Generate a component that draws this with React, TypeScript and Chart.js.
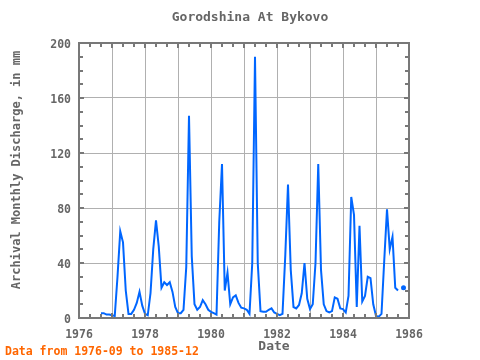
import React, { useEffect, useRef } from 'react';
import { Chart, registerables } from 'chart.js';

Chart.register(...registerables);

// ---- text ----
const TITLE = 'Gorodshina At Bykovo';
const Y_TITLE = 'Archival Monthly Discharge, in mm';
const X_TITLE = 'Date';
const FOOTNOTE = 'Data from 1976-09 to 1985-12';

// ---- data: monthly discharge (mm), series starts 1976-09 ----
const START_YEAR = 1976;
const START_MONTH = 9;
const q1976 = [3.5, 3.5, 2.5, 2.5];
const q1977 = [2, 1.5, 30, 63, 55, 20, 3, 3, 6, 11, 19, 9];
const q1978 = [3, 2, 18, 50, 71, 52, 22, 26, 24, 26, 19, 8];
const q1979 = [3.5, 3.5, 6, 37, 147, 45, 10, 6, 8, 13, 10, 6];
const q1980 = [4.5, 3.5, 2.5, 70, 112, 20, 33, 10, 15, 16.5, 11, 7.5];
const q1981 = [7, 6, 3, 40, 190, 40, 5, 4.5, 4.5, 6, 7, 4];
const q1982 = [3, 2, 3, 45, 97, 35, 8, 7, 9.5, 18, 40, 14];
const q1983 = [6.5, 10, 40, 112, 35, 10, 5, 4, 5, 15, 14, 7];
const q1984 = [6.5, 4, 16, 88, 75, 8, 67, 12, 16, 30, 29, 10];
const q1985 = [1.5, 1, 3, 42, 79, 50, 59, 22, 20, null, 22, null];

// ---- axes ----
const X_MIN = 1976;
const X_MAX = 1986;
const Y_MIN = 0;
const Y_MAX = 200;
const Y_STEP = 40;
const Y_MINOR = 10;
const X_MINOR_PER_YEAR = 3;

const TEXT_COLOR = '#666666';
const LINE_COLOR = '#0066ff';
const GRID_COLOR = '#b0b0b0';
const FRAME_COLOR = '#787878';
const NOTE_COLOR = '#ff6600';
const MONO = "'DejaVu Sans Mono', monospace";

const discharge: (number | null)[] = ([] as (number | null)[]).concat(
  q1976, q1977, q1978, q1979, q1980, q1981, q1982, q1983, q1984, q1985
);

const points = discharge.map((v, k) => ({
  x: START_YEAR + (START_MONTH - 1 + k) / 12,
  y: v,
}));

const framePlugin = {
  id: 'framePlugin',
  afterDraw(chart: any) {
    const { ctx, chartArea, scales } = chart;
    const { left, right, top, bottom } = chartArea;
    const xs = scales.x;
    const ys = scales.y;
    ctx.save();
    ctx.strokeStyle = FRAME_COLOR;
    ctx.lineWidth = 2;
    ctx.beginPath();
    for (let yr = X_MIN; yr <= X_MAX; yr++) {
      for (let s = 0; s < X_MINOR_PER_YEAR; s++) {
        const t = yr + s / X_MINOR_PER_YEAR;
        if (t > X_MAX) break;
        const px = Math.round(xs.getPixelForValue(t));
        const len = s === 0 ? 5 : 4;
        ctx.moveTo(px, bottom);
        ctx.lineTo(px, bottom - len);
        ctx.moveTo(px, top);
        ctx.lineTo(px, top + len);
      }
    }
    for (let v = Y_MIN; v <= Y_MAX; v += Y_MINOR) {
      const py = Math.round(ys.getPixelForValue(v));
      const len = v % Y_STEP === 0 ? 5 : 4;
      ctx.moveTo(left, py);
      ctx.lineTo(left + len, py);
      ctx.moveTo(right, py);
      ctx.lineTo(right - len, py);
    }
    ctx.stroke();
    ctx.strokeRect(left, top, right - left, bottom - top);

    ctx.fillStyle = TEXT_COLOR;
    ctx.textBaseline = 'middle';
    ctx.textAlign = 'center';
    ctx.font = `bold 13px ${MONO}`;
    ctx.fillText(TITLE, 250, 18);
    ctx.fillText(X_TITLE, 274, 347);

    ctx.save();
    ctx.translate(17, 170);
    ctx.rotate(-Math.PI / 2);
    ctx.font = `bold 12px ${MONO}`;
    ctx.fillText(Y_TITLE, 0, 0);
    ctx.restore();

    ctx.fillStyle = NOTE_COLOR;
    ctx.textAlign = 'left';
    ctx.font = `bold 11.5px ${MONO}`;
    ctx.fillText(FOOTNOTE, 5, 352);
    ctx.restore();
  },
};

export default function App() {
  const canvasRef = useRef<HTMLCanvasElement>(null);

  useEffect(() => {
    if (!canvasRef.current) return;
    const chart = new Chart(canvasRef.current, {
      type: 'line',
      data: {
        datasets: [
          {
            data: points as any,
            borderColor: LINE_COLOR,
            backgroundColor: LINE_COLOR,
            borderWidth: 2,
            tension: 0,
            spanGaps: false,
            pointRadius: (c: any) => {
              const i = c.dataIndex;
              const prev = i > 0 ? discharge[i - 1] : null;
              const next = i < discharge.length - 1 ? discharge[i + 1] : null;
              return discharge[i] != null && prev == null && next == null ? 2.5 : 0;
            },
            pointBorderWidth: 0,
            pointHoverRadius: 0,
          },
        ],
      },
      options: {
        responsive: false,
        animation: false,
        devicePixelRatio: 1,
        layout: { padding: { left: 0, top: 43, right: 71, bottom: 0 } },
        plugins: {
          legend: { display: false },
          title: { display: false },
          tooltip: { enabled: false },
        },
        scales: {
          x: {
            type: 'linear',
            min: X_MIN,
            max: X_MAX,
            afterFit: (s: any) => {
              s.height = 42;
            },
            border: { display: false },
            grid: { color: GRID_COLOR, lineWidth: 1, drawTicks: false },
            ticks: {
              stepSize: 1,
              padding: 10,
              color: TEXT_COLOR,
              font: { family: MONO, size: 11.5, weight: 'bold' },
              maxRotation: 0,
              autoSkip: false,
              callback: (v: any) => (Number(v) % 2 === 0 ? String(v) : ''),
            },
          },
          y: {
            min: Y_MIN,
            max: Y_MAX,
            afterFit: (s: any) => {
              s.width = 79;
            },
            border: { display: false },
            grid: { color: GRID_COLOR, lineWidth: 1, drawTicks: false },
            ticks: {
              stepSize: Y_STEP,
              padding: 8,
              labelOffset: 2,
              color: TEXT_COLOR,
              font: { family: MONO, size: 11.5, weight: 'bold' },
            },
          },
        },
      },
      plugins: [framePlugin],
    });
    return () => chart.destroy();
  }, []);

  return (
    <div style={{ position: 'absolute', left: 0, top: 0, width: 480, height: 360, background: '#ffffff' }}>
      <canvas ref={canvasRef} width={480} height={360} />
    </div>
  );
}
